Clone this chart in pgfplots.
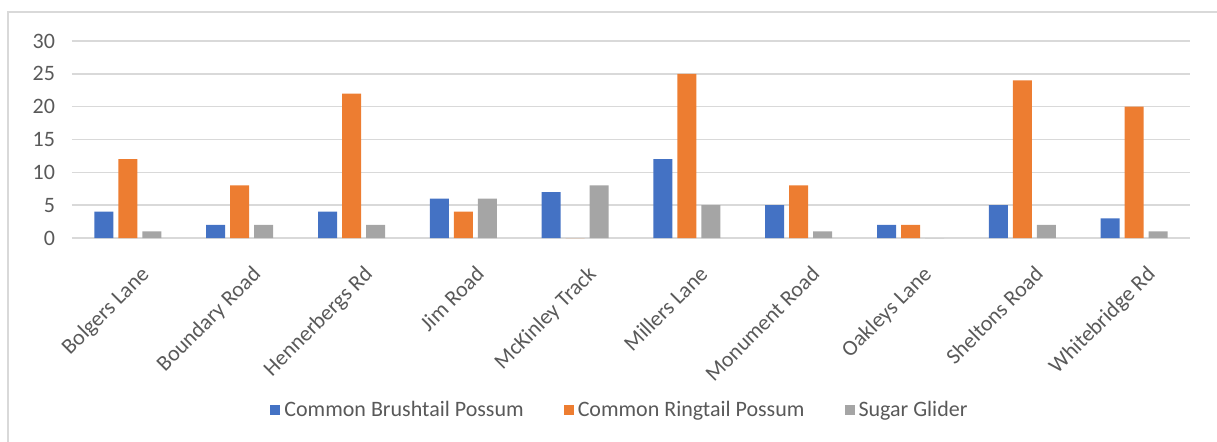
\documentclass[border=0pt]{standalone}
\usepackage{fontspec}
\setmainfont{Carlito}
\usepackage{pgfplots}
\pgfplotsset{compat=1.18}
\definecolor{cblue}{HTML}{4472C4}
\definecolor{corange}{HTML}{ED7D31}
\definecolor{cgray}{HTML}{A5A5A5}
\definecolor{cgrid}{HTML}{D9D9D9}
\definecolor{ctext}{HTML}{595959}
\begin{document}
\begin{tikzpicture}
\path[use as bounding box] (-36pt,-101.5pt) rectangle (572.5pt,119pt);
\draw[cgrid,line width=0.75pt] (-32pt,-102pt) -- (-32pt,113pt) -- (573pt,113pt);
\begin{axis}[
  at={(0pt,0pt)}, anchor=south west,
  scale only axis,
  width=559pt, height=98.5pt,
  ybar=2.5pt, bar width=9.5pt,
  xmin=-0.5, xmax=9.5,
  ymin=0, ymax=30,
  ytick={0,5,...,30},
  xtick={0,...,9},
  xticklabels={Bolgers Lane,Boundary Road,Hennerbergs Rd,Jim Road,McKinley Track,Millers Lane,Monument Road,Oakleys Lane,Sheltons Road,Whitebridge Rd},
  axis line style={draw=none},
  major tick length=0pt,
  ymajorgrids, grid style={cgrid,line width=0.75pt},
  /pgf/number format/assume math mode=true,
  tick label style={font=\fontsize{11}{12}\selectfont, text=ctext},
  yticklabel style={xshift=-5pt},
  xticklabel style={rotate=45, anchor=north east, xshift=-2pt, yshift=-10pt},
  legend columns=3,
  legend style={at={(0.491,-0.873)}, anchor=center, draw=none,
    font=\fontsize{11}{12}\selectfont, text=ctext,
    /tikz/every even column/.append style={column sep=18pt},
    inner sep=0pt},
  legend cell align=left,
]
\addplot[fill=cblue, draw=none, legend image code/.code={\fill[cblue] (0pt,-2.5pt) rectangle (5pt,2.5pt);}] coordinates {(0,4) (1,2) (2,4) (3,6) (4,7) (5,12) (6,5) (7,2) (8,5) (9,3)};
\addplot[fill=corange, draw=none, legend image code/.code={\fill[corange] (0pt,-2.5pt) rectangle (5pt,2.5pt);}] coordinates {(0,12) (1,8) (2,22) (3,4) (4,0) (5,25) (6,8) (7,2) (8,24) (9,20)};
\addplot[fill=cgray, draw=none, legend image code/.code={\fill[cgray] (0pt,-2.5pt) rectangle (5pt,2.5pt);}] coordinates {(0,1) (1,2) (2,2) (3,6) (4,8) (5,5) (6,1) (7,0) (8,2) (9,1)};
\legend{Common Brushtail Possum,Common Ringtail Possum,Sugar Glider}
\end{axis}
\end{tikzpicture}
\end{document}
